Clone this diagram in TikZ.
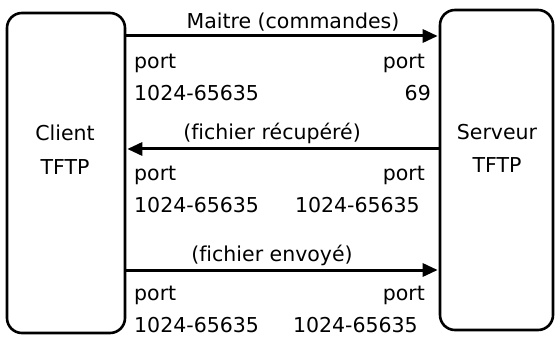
\documentclass[tikz,border=0pt]{standalone}
\usepackage{fontspec}
\setmainfont[Ligatures={NoCommon}]{DejaVu Sans}
\usetikzlibrary{arrows.meta}
\usetikzlibrary{positioning}

\tikzset{hostbox/.style={draw,line width=2.6pt,rounded corners=15pt,inner sep=0pt},
  flow/.style={line width=3pt,-{Triangle[length=15pt,width=13pt]},shorten >=1pt},
  lbl/.style={inner sep=0pt}}

\begin{document}
\begin{tikzpicture}[line cap=round,line join=round,x=1pt,y=-1pt,font=\fontsize{20.5}{24}\selectfont]
\useasboundingbox (0,0) rectangle (556,339);
\node[hostbox,minimum width=118pt,minimum height=320pt] (client) at (66,173) {};
\node[hostbox,minimum width=113pt,minimum height=320pt] (server) at (496.5,170) {};
\draw (65,133) node[lbl] (cname) {Client};
\draw (65,167) node[lbl] (ctftp) {TFTP};
\draw (497,132) node[lbl] (sname) {Serveur};
\draw (497,165) node[lbl] (stftp) {TFTP};
%% commandes
\coordinate (cmdA) at (client.east |- 0,36);
\coordinate (cmdB) at (server.west |- 0,36);
\path (cmdA) edge[flow] (cmdB);
\draw (293,22) node[lbl] (cmdtxt) {Maitre (commandes)};
\draw (134,63) node[lbl,anchor=west] (cmdport1) {port};
\draw (134,93) node[lbl,anchor=west] (cmdnum1) {1024-65635};
\draw (425,63) node[lbl,anchor=east] (cmdport2) {port};
\draw (431,93) node[lbl,anchor=east] (cmdnum2) {69};
%% fichier recupere
\coordinate (getA) at (server.west |- 0,149);
\coordinate (getB) at (client.east |- 0,149);
\path (getA) edge[flow] (getB);
\draw (272,133) node[lbl] (gettxt) {(fichier récupéré)};
\draw (134,175) node[lbl,anchor=west] (getport1) {port};
\draw (134,205) node[lbl,anchor=west] (getnum1) {1024-65635};
\draw (425,175) node[lbl,anchor=east] (getport2) {port};
\draw (420,205) node[lbl,anchor=east] (getnum2) {1024-65635};
%% fichier envoye
\coordinate (putA) at (client.east |- 0,270);
\coordinate (putB) at (server.west |- 0,270);
\path (putA) edge[flow] (putB);
\draw (272,255) node[lbl] (puttxt) {(fichier envoyé)};
\draw (134,295) node[lbl,anchor=west] (putport1) {port};
\draw (134,325) node[lbl,anchor=west] (putnum1) {1024-65635};
\draw (425,295) node[lbl,anchor=east] (putport2) {port};
\draw (418,325) node[lbl,anchor=east] (putnum2) {1024-65635};
\end{tikzpicture}
\end{document}
